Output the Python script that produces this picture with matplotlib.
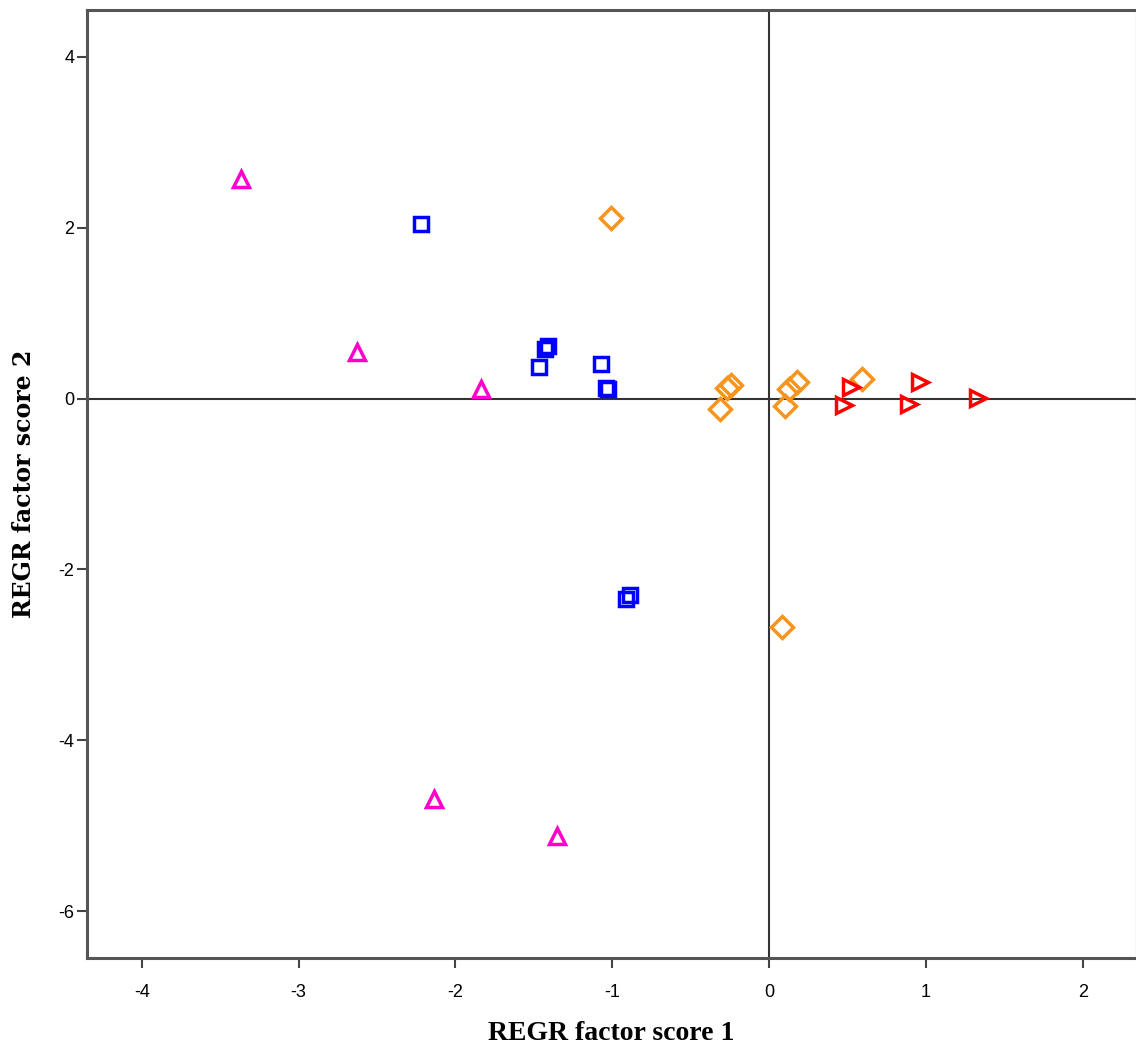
# factor score scatter (REGR factor score 1 vs 2)
import matplotlib
matplotlib.use('Agg')
import matplotlib.pyplot as plt

# group 1 - magenta triangles
g1_x = [-3.37, -2.63, -1.84, -2.14, -1.35]
g1_y = [2.57, 0.54, 0.11, -4.69, -5.12]

# group 2 - blue squares
g2_x = [-2.22, -1.41, -1.43, -1.47, -1.07, -1.04, -1.03, -0.89, -0.91]
g2_y = [2.05, 0.62, 0.58, 0.37, 0.40, 0.12, 0.11, -2.30, -2.35]

# group 3 - orange diamonds
g3_x = [-1.01, -0.31, -0.27, -0.24, 0.10, 0.13, 0.18, 0.59, 0.08]
g3_y = [2.12, -0.12, 0.12, 0.16, -0.09, 0.11, 0.20, 0.23, -2.68]

# group 4 - red right triangles
g4_x = [0.48, 0.52, 0.96, 0.89, 1.33]
g4_y = [-0.07, 0.13, 0.20, -0.06, 0.01]

xticks = [-4, -3, -2, -1, 0, 1, 2]
yticks = [-6, -4, -2, 0, 2, 4]

fig = plt.figure(figsize=(11.36, 10.53), dpi=100)
ax = fig.add_axes([87/1136, 1-958/1053, 1-87/1136, (958-10)/1053])

# reference lines through origin
ax.axhline(0, color='#333333', lw=1.5, zorder=1)
ax.axvline(0, color='#333333', lw=1.5, zorder=1)

ax.plot(g1_x, g1_y, ls='none', marker='^', ms=12, mfc='none', mec='#ff00cc', mew=2.5, zorder=3)
ax.plot(g2_x, g2_y, ls='none', marker='s', ms=10.5, mfc='none', mec='#0000ff', mew=2.5, zorder=3)
ax.plot(g3_x, g3_y, ls='none', marker='D', ms=11.5, mfc='none', mec='#f7941d', mew=2.5, zorder=3)
ax.plot(g4_x, g4_y, ls='none', marker='>', ms=12, mfc='none', mec='#ff0000', mew=2.5, zorder=3)

ax.set_xlim(-4.35, 2.34)
ax.set_ylim(-6.55, 4.55)
ax.set_xticks(xticks)
ax.set_yticks(yticks)
ax.set_xticklabels([str(t) for t in xticks], family='Liberation Sans', fontsize=13, fontstretch='condensed')
ax.set_yticklabels([str(t) for t in yticks], family='Liberation Sans', fontsize=13, fontstretch='condensed')
ax.tick_params(axis='x', length=7, width=1.5, color='#444444', pad=12)
ax.tick_params(axis='y', length=7, width=1.5, color='#444444', pad=2)

for s in ['left', 'bottom', 'top']:
    ax.spines[s].set_color('#555555')
    ax.spines[s].set_linewidth(2.2)
ax.spines['right'].set_color('#dddddd')
ax.spines['right'].set_linewidth(1)

ax.set_xlabel('REGR factor score 1', family='Liberation Serif', fontweight='bold', fontsize=20, labelpad=14)
ax.set_ylabel('REGR factor score 2', family='DejaVu Serif', fontweight='bold', fontsize=17, labelpad=16)

fig.savefig('out.png', dpi=100)
